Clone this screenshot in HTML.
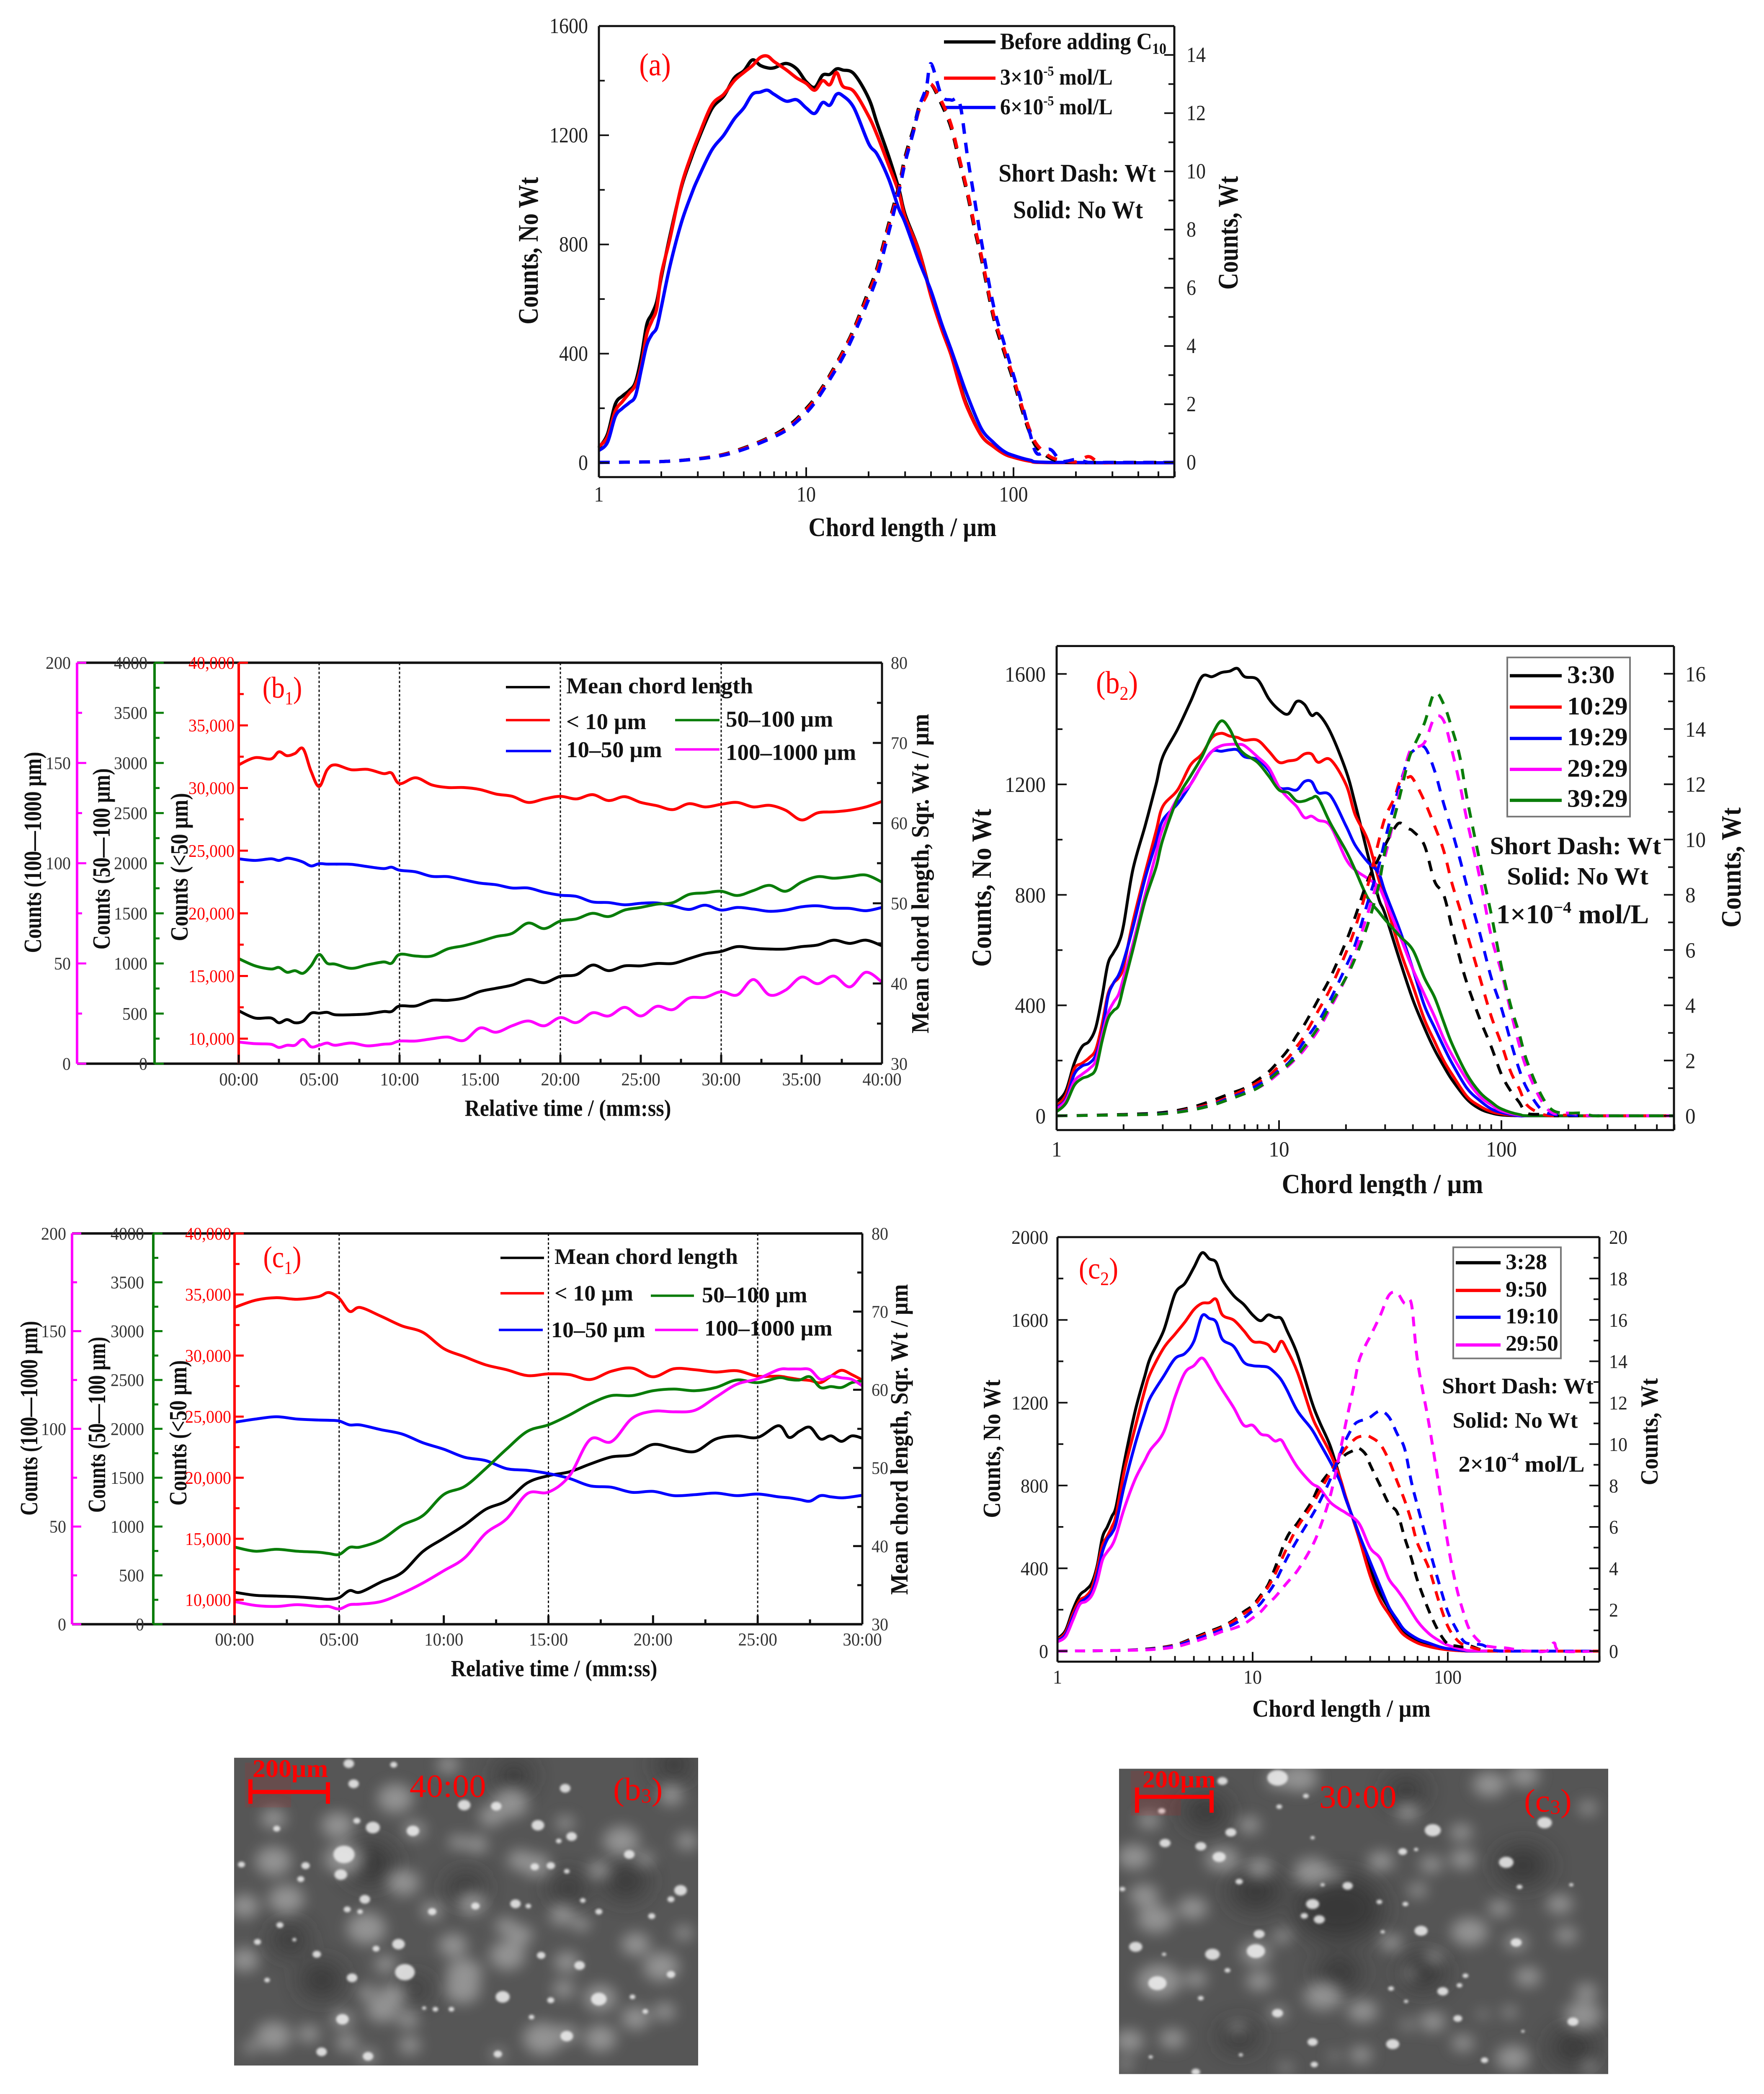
<!DOCTYPE html>
<html lang="en">
<head>
<meta charset="utf-8">
<title>Chord length distributions and time trends</title>
<style>
html,body{margin:0;padding:0;background:#fff;width:4212px;height:5000px;overflow:hidden;}
svg{display:block;overflow:hidden;}
text{font-family:"Liberation Serif",serif;fill:#111;}
.b{font-weight:bold;}
.r{fill:#ff0000;}
</style>
</head>
<body>
<svg id="root" xmlns="http://www.w3.org/2000/svg" width="4212" height="5000" viewBox="0 0 4212 5144" preserveAspectRatio="none">
<defs>
<filter id="soft" filterUnits="userSpaceOnUse" x="500" y="4300" width="3400" height="844"><feGaussianBlur stdDeviation="17"/></filter>
<filter id="softer" filterUnits="userSpaceOnUse" x="500" y="4300" width="3400" height="844"><feGaussianBlur stdDeviation="28"/></filter>
<filter id="sharp" filterUnits="userSpaceOnUse" x="500" y="4300" width="3400" height="844"><feGaussianBlur stdDeviation="3"/></filter>
<clipPath id="clip-b3"><rect x="559" y="4318" width="1108" height="756"/></clipPath>
<clipPath id="clip-c3"><rect x="2672" y="4345" width="1168" height="750"/></clipPath>
</defs>

<g id="panel-a">
<text class="b" text-anchor="middle" font-size="57" transform="translate(2155,1317) scale(1,1.15)">Chord length / µm</text>
<text class="b" text-anchor="middle" font-size="57" textLength="362" lengthAdjust="spacingAndGlyphs" transform="translate(1284,616) rotate(-90) scale(1,1.18)">Counts, No Wt</text>
<text class="b" text-anchor="middle" font-size="57" textLength="279" lengthAdjust="spacingAndGlyphs" transform="translate(2955,572) rotate(-90) scale(1,1.18)">Counts, Wt</text>
<text class="r" text-anchor="middle" font-size="68" transform="translate(1564,185) scale(1,1.15)">(a)</text>
<line x1="2254" y1="103" x2="2377" y2="103" stroke="#000" stroke-width="8"/>
<text class="b" font-size="52" transform="translate(2388,121) scale(1,1.12)">Before adding C<tspan font-size="34" dy="10">10</tspan></text>
<line x1="2254" y1="192" x2="2377" y2="192" stroke="#f00" stroke-width="8"/>
<text class="b" font-size="50" transform="translate(2388,208) scale(1,1.12)">3×10<tspan font-size="30" dy="-20">-5</tspan><tspan dy="20"> mol/L</tspan></text>
<line x1="2254" y1="264" x2="2377" y2="264" stroke="#00f" stroke-width="8"/>
<text class="b" font-size="50" transform="translate(2388,281) scale(1,1.12)">6×10<tspan font-size="30" dy="-20">-5</tspan><tspan dy="20"> mol/L</tspan></text>
<text class="b" text-anchor="middle" font-size="56" transform="translate(2572,446) scale(1,1.1)">Short Dash: Wt</text>
<text class="b" text-anchor="middle" font-size="56" transform="translate(2574,536) scale(1,1.1)">Solid: No Wt</text>
</g>

<g id="panel-b1">
<text class="b" text-anchor="middle" font-size="50" transform="translate(1356,2741) scale(1,1.15)">Relative time / (mm:ss)</text>
<text class="b" text-anchor="middle" font-size="50" textLength="494" lengthAdjust="spacingAndGlyphs" transform="translate(98,2094) rotate(-90) scale(1,1.18)">Counts (100—1000 µm)</text>
<text class="b" text-anchor="middle" font-size="50" textLength="445" lengthAdjust="spacingAndGlyphs" transform="translate(262,2110) rotate(-90) scale(1,1.18)">Counts (50—100 µm)</text>
<text class="b" text-anchor="middle" font-size="50" textLength="364" lengthAdjust="spacingAndGlyphs" transform="translate(448,2130) rotate(-90) scale(1,1.18)">Counts (&lt;50 µm)</text>
<text class="b" text-anchor="middle" font-size="50" textLength="785" lengthAdjust="spacingAndGlyphs" transform="translate(2217,2146) rotate(-90) scale(1,1.18)">Mean chord length, Sqr. Wt / µm</text>
<text class="r" text-anchor="middle" font-size="64" transform="translate(674,1714) scale(1,1.15)">(b<tspan font-size="40" dy="14">1</tspan><tspan dy="-14">)</tspan></text>
<line x1="1208" y1="1688" x2="1313" y2="1688" stroke="#000" stroke-width="6"/>
<text class="b" font-size="55" x="1352" y="1703">Mean chord length</text>
<line x1="1208" y1="1769" x2="1313" y2="1769" stroke="#f00" stroke-width="6"/>
<text class="b" font-size="55" x="1352" y="1791">&lt; 10 µm</text>
<line x1="1612" y1="1769" x2="1718" y2="1769" stroke="#0a7d0a" stroke-width="6"/>
<text class="b" font-size="55" x="1733" y="1785">50–100 µm</text>
<line x1="1208" y1="1845" x2="1316" y2="1845" stroke="#00f" stroke-width="6"/>
<text class="b" font-size="55" x="1352" y="1860">10–50 µm</text>
<line x1="1612" y1="1841" x2="1718" y2="1841" stroke="#f0f" stroke-width="6"/>
<text class="b" font-size="55" x="1733" y="1867">100–1000 µm</text>
</g>

<g id="panel-b2">
<text class="b" text-anchor="middle" font-size="61" transform="translate(3301,2931) scale(1,1.1)">Chord length / µm</text>
<text class="b" text-anchor="middle" font-size="61" textLength="388" lengthAdjust="spacingAndGlyphs" transform="translate(2366,2181) rotate(-90) scale(1,1.1)">Counts, No Wt</text>
<text class="b" text-anchor="middle" font-size="61" textLength="295" lengthAdjust="spacingAndGlyphs" transform="translate(4156,2131) rotate(-90) scale(1,1.1)">Counts, Wt</text>
<text class="r" text-anchor="middle" font-size="68" transform="translate(2667,1703) scale(1,1.15)">(b<tspan font-size="42" dy="14">2</tspan><tspan dy="-14">)</tspan></text>
<rect x="3599" y="1615" width="293" height="391" fill="#fff" stroke="#777" stroke-width="4"/>
<line x1="3605" y1="1660" x2="3729" y2="1660" stroke="#000" stroke-width="8"/>
<text class="b" font-size="62" x="3742" y="1678">3:30</text>
<line x1="3605" y1="1737" x2="3729" y2="1737" stroke="#f00" stroke-width="8"/>
<text class="b" font-size="62" x="3742" y="1755">10:29</text>
<line x1="3605" y1="1814" x2="3729" y2="1814" stroke="#00f" stroke-width="8"/>
<text class="b" font-size="62" x="3742" y="1831">19:29</text>
<line x1="3605" y1="1890" x2="3729" y2="1890" stroke="#f0f" stroke-width="8"/>
<text class="b" font-size="62" x="3742" y="1908">29:29</text>
<line x1="3605" y1="1966" x2="3729" y2="1966" stroke="#0a7d0a" stroke-width="8"/>
<text class="b" font-size="62" x="3742" y="1982">39:29</text>
<text class="b" text-anchor="middle" font-size="61" transform="translate(3762,2098)">Short Dash: Wt</text>
<text class="b" text-anchor="middle" font-size="61" transform="translate(3767,2173)">Solid: No Wt</text>
<text class="b" text-anchor="middle" font-size="66" transform="translate(3755,2268)">1×10<tspan font-size="40" dy="-26">−4</tspan><tspan dy="26"> mol/L</tspan></text>
</g>
<rect x="3000" y="2938" width="700" height="40" fill="#fff"/>

<g id="panel-c1">
<text class="b" text-anchor="middle" font-size="50" transform="translate(1323,4118) scale(1,1.15)">Relative time / (mm:ss)</text>
<text class="b" text-anchor="middle" font-size="50" textLength="478" lengthAdjust="spacingAndGlyphs" transform="translate(89,3484) rotate(-90) scale(1,1.18)">Counts (100—1000 µm)</text>
<text class="b" text-anchor="middle" font-size="50" textLength="432" lengthAdjust="spacingAndGlyphs" transform="translate(251,3500) rotate(-90) scale(1,1.18)">Counts (50—100 µm)</text>
<text class="b" text-anchor="middle" font-size="50" textLength="357" lengthAdjust="spacingAndGlyphs" transform="translate(445,3520) rotate(-90) scale(1,1.18)">Counts (&lt;50 µm)</text>
<text class="b" text-anchor="middle" font-size="50" textLength="763" lengthAdjust="spacingAndGlyphs" transform="translate(2167,3536) rotate(-90) scale(1,1.18)">Mean chord length, Sqr. Wt / µm</text>
<text class="r" text-anchor="middle" font-size="64" transform="translate(674,3113) scale(1,1.15)">(c<tspan font-size="40" dy="14">1</tspan><tspan dy="-14">)</tspan></text>
<line x1="1195" y1="3090" x2="1299" y2="3090" stroke="#000" stroke-width="6"/>
<text class="b" font-size="54" x="1324" y="3105">Mean chord length</text>
<line x1="1195" y1="3177" x2="1299" y2="3177" stroke="#f00" stroke-width="6"/>
<text class="b" font-size="54" x="1324" y="3195">&lt; 10 µm</text>
<line x1="1554" y1="3183" x2="1657" y2="3183" stroke="#0a7d0a" stroke-width="6"/>
<text class="b" font-size="54" x="1676" y="3199">50–100 µm</text>
<line x1="1191" y1="3267" x2="1296" y2="3267" stroke="#00f" stroke-width="6"/>
<text class="b" font-size="54" x="1316" y="3285">10–50 µm</text>
<line x1="1564" y1="3267" x2="1667" y2="3267" stroke="#f0f" stroke-width="6"/>
<text class="b" font-size="54" x="1682" y="3281">100–1000 µm</text>
</g>

<g id="panel-c2">
<text class="b" text-anchor="middle" font-size="54" transform="translate(3203,4217) scale(1,1.1)">Chord length / µm</text>
<text class="b" text-anchor="middle" font-size="54" textLength="340" lengthAdjust="spacingAndGlyphs" transform="translate(2388,3559) rotate(-90) scale(1,1.1)">Counts, No Wt</text>
<text class="b" text-anchor="middle" font-size="54" textLength="263" lengthAdjust="spacingAndGlyphs" transform="translate(3958,3517) rotate(-90) scale(1,1.1)">Counts, Wt</text>
<text class="r" text-anchor="middle" font-size="66" transform="translate(2623,3141) scale(1,1.12)">(c<tspan font-size="42" dy="14">2</tspan><tspan dy="-14">)</tspan></text>
<rect x="3470" y="3064" width="257" height="273" fill="#fff" stroke="#777" stroke-width="4"/>
<line x1="3476" y1="3102" x2="3583" y2="3102" stroke="#000" stroke-width="8"/>
<text class="b" font-size="54" x="3595" y="3118">3:28</text>
<line x1="3476" y1="3170" x2="3583" y2="3170" stroke="#f00" stroke-width="8"/>
<text class="b" font-size="54" x="3595" y="3185">9:50</text>
<line x1="3476" y1="3236" x2="3583" y2="3236" stroke="#00f" stroke-width="8"/>
<text class="b" font-size="54" x="3595" y="3251">19:10</text>
<line x1="3476" y1="3304" x2="3583" y2="3304" stroke="#f0f" stroke-width="8"/>
<text class="b" font-size="54" x="3595" y="3318">29:50</text>
<text class="b" text-anchor="middle" font-size="54" transform="translate(3624,3423)">Short Dash: Wt</text>
<text class="b" text-anchor="middle" font-size="54" transform="translate(3618,3507)">Solid: No Wt</text>
<text class="b" text-anchor="middle" font-size="56" transform="translate(3633,3615)">2×10<tspan font-size="34" dy="-24">-4</tspan><tspan dy="24"> mol/L</tspan></text>
</g>

<g id="photo-b3">
<rect x="559" y="4318" width="1108" height="756" fill="#565656"/>
<g id="photo-b3-blobs" clip-path="url(#clip-b3)"></g>
<rect x="585" y="4330" width="110" height="110" fill="#ff0000" opacity="0.1"/>
</g>
<g>
<text class="b r" font-size="62" x="603" y="4365">200µm</text>
<path d="M598 4371V4431M598 4402H783M783 4378V4431" fill="none" stroke="#f00" stroke-width="10"/>
<text class="r" font-size="80" x="978" y="4414">40:00</text>
<text class="r" font-size="80" x="1464" y="4422">(b<tspan font-size="50" dy="6">3</tspan><tspan dy="-6">)</tspan></text>
</g>

<g id="photo-c3">
<rect x="2672" y="4345" width="1168" height="750" fill="#555"/>
<g id="photo-c3-blobs" clip-path="url(#clip-c3)"></g>
<rect x="2700" y="4350" width="120" height="110" fill="#ff0000" opacity="0.1"/>
</g>
<g>
<text class="b r" font-size="60" x="2728" y="4391">200µm</text>
<path d="M2715 4391V4453M2715 4414H2893M2893 4398V4453" fill="none" stroke="#f00" stroke-width="10"/>
<text class="r" font-size="81" x="3150" y="4441">30:00</text>
<text class="r" font-size="80" x="3639" y="4450">(c<tspan font-size="50" dy="6">3</tspan><tspan dy="-6">)</tspan></text>
</g>
</svg>

<script>
// ---------- shared sample positions ----------
const xSolid = [1,1.1,1.2,1.3,1.4,1.5,1.6,1.7,1.8,1.9,2,2.2,2.5,2.8,3,3.5,4,4.5,5,5.5,6,6.5,7,8,9,10,11,12,13,14,15,17,20,22,25,28,30,35,40,45,50,55,60,70,80,90,100,120,150,600];
const xDash = [1,2,3,4,5,6,7,8,9,10,11,12,13,15,17,20,22,25,28,30,33,35,38,40,45,50,55,60,65,70,80,90,100,110,120,130,150,170,200,230,260,320,350,380,600];

// ---------- panel (a) ----------
const aBlack = [55,105,215,245,265,295,385,505,545,590,680,830,1010,1120,1180,1296,1343,1410,1436,1476,1456,1447,1447,1463,1443,1396,1376,1420,1423,1443,1439,1425,1336,1243,1123,1003,910,777,617,497,400,290,205,100,60,35,22,8,1,0];
const aRed = [60,95,190,225,255,285,355,470,520,565,690,820,1015,1130,1190,1310,1350,1400,1430,1455,1485,1490,1470,1440,1410,1390,1365,1400,1385,1430,1380,1360,1270,1200,1090,990,900,775,610,490,395,285,200,100,60,33,20,6,1,0];
const aBlue = [45,75,170,200,220,245,340,430,470,495,570,720,880,985,1040,1145,1200,1260,1300,1350,1358,1365,1350,1325,1330,1300,1280,1320,1310,1350,1345,1300,1170,1130,1040,930,880,740,630,510,415,325,245,125,75,42,27,10,2,0];
const aDashBlack = [0,.03,.13,.28,.5,.72,.95,1.2,1.5,1.85,2.2,2.6,3,3.8,4.6,5.9,6.7,8.2,9.5,10.5,11.5,12.2,12.7,13,12.3,11.5,10.3,9.2,8,7,5,3.8,2.8,1.8,1,.5,.15,.03,0,0,0,0,0,0,0];
const aDashRed = [0,.03,.13,.27,.48,.7,.92,1.15,1.45,1.8,2.15,2.55,2.95,3.75,4.55,5.8,6.6,8.1,9.4,10.4,11.4,12.1,12.6,13,12.4,11.6,10.4,9.3,8.1,7.1,5.1,3.9,2.9,1.9,1.1,.6,.2,.08,.02,.2,0,0,0,0,0];
const aDashBlue = [0,.03,.12,.25,.45,.67,.88,1.1,1.4,1.7,2.05,2.45,2.85,3.6,4.4,5.6,6.4,7.9,9.3,10.3,11.4,12.2,12.9,13.7,12.6,12.45,12.35,10.5,9,7.6,5.4,4.1,3,2,1,.3,.45,.05,.1,0,0,0,0,0,0];
const aLeftTicks = [0,400,800,1200,1600];
const aLeftMinor = [200,600,1000,1400];
const aRightTicks = [0,2,4,6,8,10,12,14];
const aRightMinor = [1,3,5,7,9,11,13];

// ---------- panel (b2) ----------
const bBlack = [50,90,190,250,270,320,430,550,590,625,690,890,1050,1200,1300,1400,1500,1590,1590,1605,1610,1620,1590,1580,1510,1470,1455,1500,1490,1450,1455,1390,1250,1130,950,790,730,560,420,320,240,180,130,60,25,10,3,0,0,0];
const bRed = [35,75,170,190,210,240,330,440,480,500,540,700,880,1030,1120,1180,1270,1310,1370,1385,1375,1370,1360,1360,1320,1280,1285,1290,1310,1310,1280,1290,1200,1090,1000,860,780,600,470,350,270,200,150,70,35,15,7,0,0,0];
const bBlue = [30,60,150,180,190,220,300,430,480,510,560,680,860,990,1070,1130,1200,1270,1320,1320,1325,1325,1300,1290,1250,1190,1185,1180,1210,1210,1170,1160,1050,980,920,880,810,670,530,400,320,250,190,100,55,25,12,0,0,0];
const bMagenta = [25,55,125,150,170,200,290,370,410,440,500,620,800,950,1040,1150,1200,1270,1320,1340,1345,1345,1340,1300,1260,1190,1150,1120,1080,1085,1070,1050,930,890,860,830,780,650,530,440,360,280,220,130,70,40,18,3,0,0];
const bGreen = [15,45,110,135,145,170,270,350,380,400,470,600,780,900,1000,1150,1230,1300,1380,1430,1400,1340,1310,1280,1230,1180,1170,1140,1140,1150,1150,1060,960,890,790,740,710,650,600,500,430,340,260,150,85,50,25,5,0,0];
const bDashBlack = [0,.05,.12,.3,.55,.8,1,1.3,1.6,2,2.4,2.9,3.3,4.2,5,6.3,7.2,8.5,9.3,9.8,10.4,10.6,10.4,10.3,9.8,8.5,8,6.8,5.7,4.8,3.5,2.5,1.5,.9,.5,.1,.05,0,0,0,0,0,0,0,0];
const bDashRed = [0,.03,.08,.25,.45,.7,.95,1.2,1.45,1.8,2.1,2.5,2.9,3.8,4.6,5.9,6.8,8.3,9.9,10.8,11.5,12.1,12.25,12.2,11.4,10.5,9.6,8.4,7.5,6.6,5,3.6,2.6,1.6,1,.4,.08,0,.03,0,0,0,0,0,0];
const bDashBlue = [0,.03,.08,.22,.4,.65,.85,1.1,1.35,1.65,1.9,2.3,2.7,3.4,4.2,5.4,6.2,7.7,9,10,11.3,12,12.9,13.2,13.35,12.5,11.3,10.3,9.3,8.3,6.6,5,3.9,2.7,1.7,1,.25,.05,.03,0,0,0,0,0,0];
const bDashMagenta = [0,.03,.07,.2,.38,.6,.8,1,1.25,1.55,1.8,2.1,2.4,3.1,3.9,5,5.9,7.3,8.6,9.4,10.8,11.8,13,13.3,13.5,14.4,14.3,13.2,12,10.7,8.6,6.5,5.2,3.8,2.6,1.7,.6,.1,.1,.03,0,0,0,0,0];
const bDashGreen = [0,.03,.07,.2,.38,.6,.8,1,1.3,1.6,1.85,2.15,2.5,3.2,4,5,5.7,6.9,8.3,9.6,10.8,11.6,12.8,13.3,14.2,15.3,14.9,14,13,11.5,9.2,7.3,5.4,4,3,2,.8,.2,.1,.1,0,0,0,0,0];
const bLeftTicks = [0,400,800,1200,1600];
const bLeftMinor = [200,600,1000,1400];
const bRightTicks = [0,2,4,6,8,10,12,14,16];
const bRightMinor = [1,3,5,7,9,11,13,15];

// ---------- panel (c2) ----------
const cBlack = [60,100,200,270,296,330,415,550,600,651,702,914,1159,1328,1420,1548,1726,1777,1853,1924,1895,1878,1794,1717,1675,1624,1596,1624,1612,1607,1548,1430,1210,1108,990,838,736,567,398,279,203,135,93,51,25,13,7,1,0,0];
const cRed = [55,90,180,245,265,305,400,510,555,600,660,870,1080,1260,1345,1464,1531,1590,1650,1680,1683,1700,1624,1599,1548,1497,1492,1480,1447,1497,1455,1345,1142,1057,956,838,745,550,364,245,178,118,76,39,22,12,6,1,0,0];
const cBlue = [50,80,165,230,255,285,370,480,540,570,620,800,1000,1150,1227,1328,1413,1438,1497,1619,1607,1590,1506,1472,1396,1379,1376,1371,1345,1311,1261,1159,1074,1007,914,821,736,567,431,313,212,152,102,59,39,22,12,3,0,0];
const cMagenta = [45,70,150,225,240,270,340,440,480,510,560,690,830,920,973,1058,1227,1345,1379,1416,1371,1311,1261,1176,1091,1091,1049,1041,1015,1020,973,888,812,787,719,685,668,618,499,448,347,296,245,144,85,51,29,8,1,0];
const cDashBlack = [0,.03,.12,.3,.65,.95,1.2,1.5,1.9,2.2,2.7,3.2,4,5.5,6.2,7.2,8,8.7,9.2,9.5,9.7,9.8,9.5,9,8,7.1,6.7,5.5,4.5,3.4,1.95,.93,.34,.25,.2,.25,.05,0,0,0,0,0,0,0,0];
const cDashRed = [0,.03,.1,.28,.6,.9,1.15,1.45,1.8,2.1,2.6,3.1,3.7,5,6,7,7.7,8.6,9.4,9.8,10.2,10.35,10.4,10.35,10,9.2,8.2,7.3,6.3,5.2,4,2.4,1.2,.6,.3,.2,.05,0,0,0,0,0,0,0,0];
const cDashBlue = [0,.03,.09,.25,.55,.8,1.05,1.3,1.6,1.95,2.3,2.8,3.3,4.5,5.4,6.5,7.2,8.3,9.5,10.2,10.9,11.1,11.2,11.3,11.6,11.3,10.5,9.8,8.2,7,5,3.3,1.9,1.1,.5,.35,.3,.05,0,0,0,0,0,0,0];
const cDashMagenta = [0,.03,.07,.2,.45,.7,.95,1.1,1.3,1.6,1.9,2.3,2.6,3.3,3.9,5,5.9,7.5,9.6,11,12.8,14,14.8,15.2,16.2,17.2,17.3,16.8,16.8,14,11,8,5.2,3.2,1.9,1,.35,.2,.15,.05,0,0,.4,0,0];
const cLeftTicks = [0,400,800,1200,1600,2000];
const cLeftMinor = [200,600,1000,1400,1800];
const cRightTicks = [0,2,4,6,8,10,12,14,16,18,20];
const cRightMinor = [1,3,5,7,9,11,13,15,17,19];

// ---------- log x ticks ----------
const logMajor = [1,10,100];
const logMinor = [2,3,4,5,6,7,8,9,20,30,40,50,60,70,80,90,200,300,400,500,600];

// ---------- panel (b1) time series ----------
const tB1 = [0,1,2,2.5,3,3.5,4,4.5,5,5.5,6,7,8,9,9.5,10,11,12,13,14,15,16,17,18,19,20,21,22,23,24,25,26,27,28,29,30,31,32,33,34,35,36,37,38,39,40];
const b1Under10 = [31850,32420,32320,32890,32580,32760,33140,31330,30120,31460,31850,31460,31490,31150,31200,30350,30820,30250,30040,30040,29880,29520,29340,28850,29130,29340,29130,29470,29000,29310,28850,28590,28280,28750,28490,28700,28850,28490,28620,28230,27450,28020,28100,28230,28490,28930];
const b1From10To50 = [24350,24220,24350,24220,24400,24300,24090,23780,23960,23930,23930,23910,23730,23570,23680,23440,23310,22950,22930,22670,22410,22280,22020,22020,21680,21450,21350,20910,20860,20680,20800,20830,20600,20310,20650,20260,20470,20340,20160,20260,20520,20600,20420,20390,20210,20470];
const b1From50To100 = [1048,977,944,960,912,928,902,977,1090,1002,993,951,986,1015,1002,1090,1074,1074,1145,1177,1219,1268,1300,1403,1348,1423,1445,1500,1468,1533,1559,1591,1607,1688,1704,1720,1678,1727,1779,1720,1811,1866,1850,1866,1882,1811];
const b1From100To1000 = [10.8,10,9.7,8.1,9.2,9.2,12.1,8.4,9.2,10.3,9.2,10.3,8.9,9.7,10,11.3,11.3,12.4,13.3,11.6,17.8,15.7,18.9,21.3,18.9,23,20.5,25.4,23.8,28.1,23.8,28.6,27,32.7,33.1,35.9,34.3,42,34.3,36.7,43.2,39.9,43.7,38.3,45.6,40.7];
const b1Mean = [36.6,35.7,35.7,35.1,35.5,35.1,35.3,36.3,36.3,36.4,36.1,36.1,36.2,36.5,36.5,37.2,37.2,37.9,37.9,38.2,39,39.4,39.8,40.5,40.1,40.9,41.1,42.3,41.6,42.2,42.2,42.5,42.5,43.1,43.7,44,44.6,44.4,44.3,44.3,44.6,44.8,45.4,45,45.4,44.7];
const b1TimeTicks = [0,5,10,15,20,25,30,35,40];
const b1TimeMinor = [2.5,7.5,12.5,17.5,22.5,27.5,32.5,37.5];
const b1Markers = [5,10,20,30];

// ---------- panel (c1) time series ----------
const tC1 = [0,1,2,3,4,4.5,5,5.5,6,7,8,9,10,11,12,13,14,15,16,17,18,19,20,21,22,23,24,25,26,26.5,27,27.5,28,28.5,29,29.5,30];
const c1Under10 = [33940,34530,34740,34610,34820,35160,34690,33620,33940,33220,32430,31900,30570,29900,29240,28840,28360,28500,28440,28040,28710,28970,28260,28920,28840,28650,28760,28310,28310,28180,28040,27960,27780,28310,28790,28440,27990];
const c1From10To50 = [24540,24800,24990,24800,24720,24700,24640,24320,24320,23930,23580,22860,22330,21670,21400,20740,20600,20340,19940,19330,19220,18800,18880,18530,18610,18740,18530,18660,18430,18350,18210,18080,18530,18430,18350,18430,18560];
const c1From50To100 = [790,747,767,747,737,724,714,787,790,863,1012,1112,1328,1411,1593,1793,1975,2041,2141,2257,2340,2340,2390,2407,2390,2423,2500,2473,2523,2506,2500,2533,2423,2433,2423,2473,2490];
const c1From100To1000 = [11.6,9.6,9.1,10,9.1,9.1,7.8,10,10.3,11.6,15.8,21.1,27.4,34,46.5,53.9,66.9,67.6,75.9,94.6,93.4,105.4,109,108.7,109.5,116.2,122.8,125.6,130.3,130.6,130.6,130.3,125.3,127,126.1,125.3,122];
const c1Mean = [34.1,33.7,33.6,33.5,33.3,33.2,33.4,34.3,34.1,35.4,36.6,39.3,41,42.7,44.7,45.8,48.1,49,49.5,50.5,51.4,51.7,53,52.5,52.1,53.7,54.1,53.9,55.4,53.9,54.7,55.2,53.7,54.1,53.4,54.1,53.8];
const c1TimeTicks = [0,5,10,15,20,25,30];
const c1TimeMinor = [2.5,7.5,12.5,17.5,22.5,27.5];
const c1Markers = [5,15,25];

// ---------- multi-axis ticks ----------
const magentaTicks = [0,50,100,150,200];
const magentaMinor = [25,75,125,175];
const greenTicks = [0,500,1000,1500,2000,2500,3000,3500,4000];
const greenMinor = [250,750,1250,1750,2250,2750,3250,3750];
const redTicks = [10000,15000,20000,25000,30000,35000,40000];
const redMinor = [12500,17500,22500,27500,32500,37500];
const meanTicks = [30,40,50,60,70,80];
const meanMinor = [35,45,55,65,75];

// ---------- micrograph blobs: [x, y, radius] ----------
const b3Dark = [[500,540,70],[1300,620,60],[350,1060,60],[800,650,50],[1450,100,50],[950,150,50],[250,880,50],[640,1100,40],[1120,650,50]];
const b3Soft = [[200,530,50],[605,625,45],[420,520,55],[940,270,50],[580,250,50],[745,100,30],[200,340,35],[640,390,30],[775,445,25],[835,455,30],[970,525,35],[1020,550,40],[1215,570,30],[1285,440,50],[1440,235,35],[1490,440,30],[110,730,40],[240,700,50],[490,830,55],[695,750,30],[820,720,40],[1100,770,35],[925,820,30],[970,860,35],[1160,810,25],[110,970,40],[550,990,30],[760,905,40],[930,950,50],[795,1030,50],[1115,980,35],[1330,900,40],[1410,1000,50],[790,1100,50],[490,1115,25],[570,1130,40],[1105,1100,30],[1220,1140,45],[540,1190,45],[620,1235,30],[415,1235,30],[200,1310,50],[310,1300,30],[1040,1320,55],[1115,1300,30],[1220,1320,45],[1330,1230,40],[1420,1200,30],[430,1340,30],[625,1350,30],[130,1360,20],[495,1400,25],[900,1390,20],[1480,850,25],[1360,520,25],[400,370,45],[880,330,35],[1110,360,25]];
const b3Bright = [[435,95,15],[575,100,10],[450,185,15],[795,280,18],[895,285,15],[1110,205,15],[1025,370,18],[1130,420,15],[460,350,10],[510,380,20],[635,395,18],[1090,440,8],[1310,500,15],[1065,550,12],[1115,575,8],[1015,555,12],[420,500,30],[410,590,18],[285,610,10],[100,545,10],[300,550,12],[1470,660,18],[1440,700,10],[1380,775,10],[1215,755,10],[1165,705,8],[955,720,15],[995,730,8],[485,700,15],[470,755,8],[430,745,10],[220,815,10],[590,900,18],[520,920,10],[335,945,12],[1035,950,12],[610,1025,28],[445,1050,15],[1155,995,15],[1440,1035,12],[915,1135,20],[1215,1145,22],[1065,1150,10],[415,1235,18],[350,1380,15],[495,1400,15],[1115,1310,18],[900,1390,12],[1005,1225,8],[1320,1135,8],[705,1190,8],[755,1190,8],[670,1185,6],[830,730,12],[695,755,12],[180,1060,8],[210,385,10],[1360,1200,8],[150,890,10],[265,880,6]];
const c3Dark = [[700,700,120],[450,620,70],[1250,500,70],[1400,1350,60],[700,1000,60],[300,250,60],[950,1000,60],[900,150,50],[400,1300,50]];
const c3Soft = [[85,460,45],[115,640,40],[150,750,50],[260,700,40],[130,290,30],[350,470,45],[430,310,30],[460,510,35],[620,530,50],[690,545,20],[825,480,35],[975,495,30],[1070,470,35],[1065,345,30],[1150,120,45],[1255,80,40],[905,250,30],[580,90,50],[515,100,30],[935,615,25],[1180,700,30],[1360,680,35],[1090,810,50],[1230,860,30],[1380,825,30],[855,860,30],[450,910,40],[160,1040,60],[270,1030,30],[460,1040,35],[530,830,25],[650,1110,50],[690,1130,20],[515,1190,25],[770,1180,40],[985,925,22],[1265,1020,35],[910,1005,18],[1430,1200,50],[1220,1400,45],[765,1385,30],[70,1320,40],[60,1430,20],[200,1310,35],[395,1255,20],[980,1230,35],[1210,1185,20],[905,1245,18],[1445,230,25],[1070,1330,30],[1130,1195,15],[1440,1090,30],[685,1390,15],[540,1445,18],[1450,1440,20]];
const c3Bright = [[515,90,28],[600,175,8],[520,225,8],[375,345,15],[178,395,15],[285,410,15],[340,460,18],[400,575,10],[980,335,22],[890,435,12],[930,425,6],[1200,485,20],[1315,300,20],[1395,590,6],[1240,600,8],[725,595,14],[650,590,6],[620,370,6],[620,680,18],[595,735,10],[640,752,15],[820,670,8],[898,680,8],[945,805,18],[830,810,6],[1230,860,15],[460,820,15],[450,900,25],[320,915,20],[90,880,18],[175,915,6],[155,1050,25],[365,990,8],[1010,1088,15],[1078,1015,8],[1060,1060,8],[855,1075,8],[900,1135,6],[285,1120,8],[515,1190,15],[1055,1215,12],[620,1325,14],[860,1335,18],[625,1430,10],[270,1465,12],[1135,1410,10],[405,1385,6],[135,1395,6],[1400,1230,15],[1250,1275,5],[50,610,8],[168,245,10],[350,105,14],[1320,295,8]];

// ---------- helpers ----------
const NS = 'http://www.w3.org/2000/svg';
const BLACK = '#000', RED = '#ff0000', BLUE = '#0000ff', MAGENTA = '#ff00ff', GREEN = '#0a7d0a';

function make(tag, geometry) {
  const el = document.createElementNS(NS, tag);
  for (const k in geometry) el.setAttribute(k, geometry[k]);
  return el;
}
function addLine(g, x1, y1, x2, y2, w, color, name, dash) {
  const el = make('line', {x1: x1, y1: y1, x2: x2, y2: y2, stroke: color, 'stroke-width': w});
  if (dash) el.setAttribute('stroke-dasharray', dash);
  
  
  g.appendChild(el);
}
function addText(g, str, x, y, size, anchor, sy, color, name) {
  const el = make('text', {'font-size': size, 'text-anchor': anchor, transform: 'translate(' + x + ',' + y + ') scale(1,' + sy + ')'});
  el.style.fill = color;
  el.textContent = str;
  
  
  g.appendChild(el);
}
function smoothPath(pts) {
  let d = 'M' + pts[0][0].toFixed(1) + ' ' + pts[0][1].toFixed(1);
  for (let i = 0; i < pts.length - 1; i++) {
    const p0 = pts[Math.max(0, i - 1)], p1 = pts[i], p2 = pts[i + 1], p3 = pts[Math.min(pts.length - 1, i + 2)];
    const c1x = p1[0] + (p2[0] - p0[0]) / 6, c1y = p1[1] + (p2[1] - p0[1]) / 6;
    const c2x = p2[0] - (p3[0] - p1[0]) / 6, c2y = p2[1] - (p3[1] - p1[1]) / 6;
    d += 'C' + c1x.toFixed(1) + ' ' + c1y.toFixed(1) + ' ' + c2x.toFixed(1) + ' ' + c2y.toFixed(1) + ' ' + p2[0].toFixed(1) + ' ' + p2[1].toFixed(1);
  }
  return d;
}
function addSeries(g, xs, ys, xFn, yFn, color, width, dash, name) {
  const n = Math.min(xs.length, ys.length);
  const pts = [];
  for (let i = 0; i < n; i++) pts.push([xFn(xs[i]), yFn(ys[i])]);
  const el = make('path', {d: smoothPath(pts), fill: 'none', stroke: color, 'stroke-width': width, 'stroke-linejoin': 'round'});
  if (dash) el.setAttribute('stroke-dasharray', dash);
  
  
  g.appendChild(el);
}

// ---------- log-x distribution panel ----------
function drawDistribution(c) {
  const g = document.getElementById(c.id);
  const xFn = function (v) { return c.left + Math.log10(v) * c.decade; };
  const yL = function (v) { return c.zeroL - v * c.unitL; };
  const yR = function (v) { return c.zeroR - v * c.unitR; };
  c.solid.forEach(function (s) { addSeries(g, xSolid, s[0], xFn, yL, s[1], c.width, null, 'solid-curve-' + s[2]); });
  c.dashed.forEach(function (s) { addSeries(g, xDash, s[0], xFn, yR, s[1], c.width, c.dash, 'dashed-curve-' + s[2]); });
  const sw = 5;
  addLine(g, c.left, c.top, c.right, c.top, sw, '#111', 'top-axis-line');
  addLine(g, c.left, c.bottom, c.right, c.bottom, sw, '#111', 'x-axis-line');
  addLine(g, c.left, c.top, c.left, c.bottom, sw, '#111', 'left-axis-line');
  addLine(g, c.right, c.top, c.right, c.bottom, sw, '#111', 'right-axis-line');
  logMajor.forEach(function (v) {
    addLine(g, xFn(v), c.bottom, xFn(v), c.bottom - 24, 4, '#111', 'x-tick');
    addText(g, String(v), xFn(v), c.xLabelY, c.font, 'middle', c.sy, '#222', 'x-tick-label');
  });
  logMinor.forEach(function (v) { addLine(g, xFn(v), c.bottom, xFn(v), c.bottom - 14, 4, '#111', 'x-minor-tick'); });
  c.leftTicks.forEach(function (v) {
    addLine(g, c.left, yL(v), c.left + 24, yL(v), 4, '#111', 'left-y-tick');
    addText(g, String(v), c.leftLabelX, yL(v) + c.font * 0.38, c.font, 'end', c.sy, '#222', 'left-y-tick-label');
  });
  c.leftMinor.forEach(function (v) { addLine(g, c.left, yL(v), c.left + 14, yL(v), 4, '#111', 'left-y-minor-tick'); });
  c.rightTicks.forEach(function (v) {
    addLine(g, c.right, yR(v), c.right - 24, yR(v), 4, '#111', 'right-y-tick');
    addText(g, String(v), c.rightLabelX, yR(v) + c.font * 0.38, c.font, 'start', c.sy, '#222', 'right-y-tick-label');
  });
  c.rightMinor.forEach(function (v) { addLine(g, c.right, yR(v), c.right - 14, yR(v), 4, '#111', 'right-y-minor-tick'); });
}

// ---------- multi-axis time panel ----------
function fmtTime(m) { return (m < 10 ? '0' : '') + m + ':00'; }
function drawTimePanel(c) {
  const g = document.getElementById(c.id);
  const h = c.bottom - c.top;
  const xFn = function (t) { return c.red + t * (c.right - c.red) / c.tMax; };
  const yRed = function (v) { return c.bottom - (v - 8000) / 32000 * h; };
  const yGreen = function (v) { return c.bottom - v / 4000 * h; };
  const yMag = function (v) { return c.bottom - v / 200 * h; };
  const yMean = function (v) { return c.bottom - (v - 30) / 50 * h; };
  c.markers.forEach(function (t) { addLine(g, xFn(t), c.top, xFn(t), c.bottom, 3, '#111', 'time-marker-line', '6 5'); });
  addSeries(g, c.t, c.mean, xFn, yMean, BLACK, 7, null, 'mean-chord-length-line');
  addSeries(g, c.t, c.under10, xFn, yRed, RED, 7, null, 'under-10um-line');
  addSeries(g, c.t, c.mid, xFn, yRed, BLUE, 7, null, '10-50um-line');
  addSeries(g, c.t, c.large, xFn, yGreen, GREEN, 7, null, '50-100um-line');
  addSeries(g, c.t, c.huge, xFn, yMag, MAGENTA, 7, null, '100-1000um-line');
  addLine(g, c.mag, c.top, c.right, c.top, 6, '#111', 'top-axis-line');
  addLine(g, c.mag, c.bottom, c.right, c.bottom, 6, '#111', 'x-axis-line');
  addLine(g, c.right, c.top, c.right, c.bottom, 5, '#111', 'right-axis-line');
  addLine(g, c.mag, c.top, c.mag, c.bottom, 6, MAGENTA, 'magenta-axis-line');
  addLine(g, c.green, c.top, c.green, c.bottom, 6, GREEN, 'green-axis-line');
  addLine(g, c.red, c.top, c.red, c.bottom, 6, RED, 'red-axis-line');
  magentaTicks.forEach(function (v) {
    addLine(g, c.mag, yMag(v), c.mag + 22, yMag(v), 5, MAGENTA, 'magenta-axis-tick');
    addText(g, String(v), c.magLabelX, yMag(v) + 15, 40, 'end', 1.1, '#333', 'magenta-axis-tick-label');
  });
  magentaMinor.forEach(function (v) { addLine(g, c.mag, yMag(v), c.mag + 12, yMag(v), 5, MAGENTA, 'magenta-axis-minor-tick'); });
  greenTicks.forEach(function (v) {
    addLine(g, c.green, yGreen(v), c.green + 22, yGreen(v), 5, GREEN, 'green-axis-tick');
    addText(g, String(v), c.greenLabelX, yGreen(v) + 15, 40, 'end', 1.1, '#333', 'green-axis-tick-label');
  });
  greenMinor.forEach(function (v) { addLine(g, c.green, yGreen(v), c.green + 12, yGreen(v), 5, GREEN, 'green-axis-minor-tick'); });
  redTicks.forEach(function (v) {
    addLine(g, c.red, yRed(v), c.red + 22, yRed(v), 5, RED, 'red-axis-tick');
    addText(g, v.toLocaleString('en-US'), c.redLabelX, yRed(v) + 15, 40, 'end', 1.1, RED, 'red-axis-tick-label');
  });
  redMinor.forEach(function (v) { addLine(g, c.red, yRed(v), c.red + 12, yRed(v), 5, RED, 'red-axis-minor-tick'); });
  meanTicks.forEach(function (v) {
    addLine(g, c.right, yMean(v), c.right - 22, yMean(v), 5, '#111', 'right-axis-tick');
    addText(g, String(v), c.rightLabelX, yMean(v) + 15, 40, 'start', 1.1, '#333', 'right-axis-tick-label');
  });
  meanMinor.forEach(function (v) { addLine(g, c.right, yMean(v), c.right - 12, yMean(v), 5, '#111', 'right-axis-minor-tick'); });
  c.timeTicks.forEach(function (t) {
    addLine(g, xFn(t), c.bottom, xFn(t), c.bottom - 22, 5, '#111', 'x-tick');
    addText(g, fmtTime(t), xFn(t), c.xLabelY, 41, 'middle', 1.1, '#333', 'x-tick-label');
  });
  c.timeMinor.forEach(function (t) { addLine(g, xFn(t), c.bottom, xFn(t), c.bottom - 12, 5, '#111', 'x-minor-tick'); });
}

// ---------- micrographs ----------
function drawPhoto(id, x0, y0, kx, ky, dark, soft, bright) {
  const g = document.getElementById(id);
  const layer = function (blobs, fill, filter, opacity, name) {
    const lg = make('g', {fill: fill, filter: 'url(#' + filter + ')', opacity: opacity});
    
    
    blobs.forEach(function (b) {
      lg.appendChild(make('ellipse', {cx: x0 + b[0] * kx, cy: y0 + b[1] * ky, rx: b[2] * kx * 1.1, ry: b[2] * ky * 1.3}));
    });
    g.appendChild(lg);
  };
  layer(dark, '#333', 'softer', 0.8, 'dark-background-patches');
  layer(soft, '#a8a8a8', 'soft', 0.75, 'out-of-focus-particles');
  layer(bright, '#f0f0f0', 'sharp', 0.85, 'in-focus-particles');
}

// ---------- render ----------
drawDistribution({id: 'panel-a', left: 1430, right: 2804, top: 64, bottom: 1172, decade: 495, zeroL: 1137, unitL: 0.6706, zeroR: 1136, unitR: 71.5, width: 8, dash: '26 22', font: 46, sy: 1.15, xLabelY: 1232, leftLabelX: 1404, rightLabelX: 2833,
  leftTicks: aLeftTicks, leftMinor: aLeftMinor, rightTicks: aRightTicks, rightMinor: aRightMinor,
  solid: [[aBlack, BLACK, 'before-adding'], [aRed, RED, '3e-5'], [aBlue, BLUE, '6e-5']],
  dashed: [[aDashBlack, BLACK, 'before-adding'], [aDashRed, RED, '3e-5'], [aDashBlue, BLUE, '6e-5']]});

drawDistribution({id: 'panel-b2', left: 2523, right: 3997, top: 1587, bottom: 2776, decade: 531, zeroL: 2741, unitL: 0.6784, zeroR: 2741, unitR: 67.87, width: 7, dash: '26 22', font: 49, sy: 1.08, xLabelY: 2841, leftLabelX: 2497, rightLabelX: 4024,
  leftTicks: bLeftTicks, leftMinor: bLeftMinor, rightTicks: bRightTicks, rightMinor: bRightMinor,
  solid: [[bBlack, BLACK, '3-30'], [bRed, RED, '10-29'], [bBlue, BLUE, '19-29'], [bMagenta, MAGENTA, '29-29'], [bGreen, GREEN, '39-29']],
  dashed: [[bDashBlack, BLACK, '3-30'], [bDashRed, RED, '10-29'], [bDashBlue, BLUE, '19-29'], [bDashMagenta, MAGENTA, '29-29'], [bDashGreen, GREEN, '39-29']]});

drawDistribution({id: 'panel-c2', left: 2525, right: 3819, top: 3039, bottom: 4082, decade: 466, zeroL: 4056, unitL: 0.5085, zeroR: 4056, unitR: 50.85, width: 7, dash: '24 18', font: 44, sy: 1.1, xLabelY: 4136, leftLabelX: 2503, rightLabelX: 3842,
  leftTicks: cLeftTicks, leftMinor: cLeftMinor, rightTicks: cRightTicks, rightMinor: cRightMinor,
  solid: [[cBlack, BLACK, '3-28'], [cRed, RED, '9-50'], [cBlue, BLUE, '19-10'], [cMagenta, MAGENTA, '29-50']],
  dashed: [[cDashBlack, BLACK, '3-28'], [cDashRed, RED, '9-50'], [cDashBlue, BLUE, '19-10'], [cDashMagenta, MAGENTA, '29-50']]});

drawTimePanel({id: 'panel-b1', mag: 184, green: 369, red: 570, right: 2106, top: 1628, bottom: 2613, tMax: 40, t: tB1,
  under10: b1Under10, mid: b1From10To50, large: b1From50To100, huge: b1From100To1000, mean: b1Mean,
  timeTicks: b1TimeTicks, timeMinor: b1TimeMinor, markers: b1Markers,
  magLabelX: 169, greenLabelX: 352, redLabelX: 560, rightLabelX: 2127, xLabelY: 2666});

drawTimePanel({id: 'panel-c1', mag: 172, green: 366, red: 560, right: 2059, top: 3030, bottom: 3990, tMax: 30, t: tC1,
  under10: c1Under10, mid: c1From10To50, large: c1From50To100, huge: c1From100To1000, mean: c1Mean,
  timeTicks: c1TimeTicks, timeMinor: c1TimeMinor, markers: c1Markers,
  magLabelX: 158, greenLabelX: 344, redLabelX: 552, rightLabelX: 2081, xLabelY: 4042});

drawPhoto('photo-b3-blobs', 500, 4280, 0.7653, 0.551, b3Dark, b3Soft, b3Bright);
drawPhoto('photo-c3-blobs', 2640, 4320, 0.797, 0.5255, c3Dark, c3Soft, c3Bright);
</script>
</body>
</html>
